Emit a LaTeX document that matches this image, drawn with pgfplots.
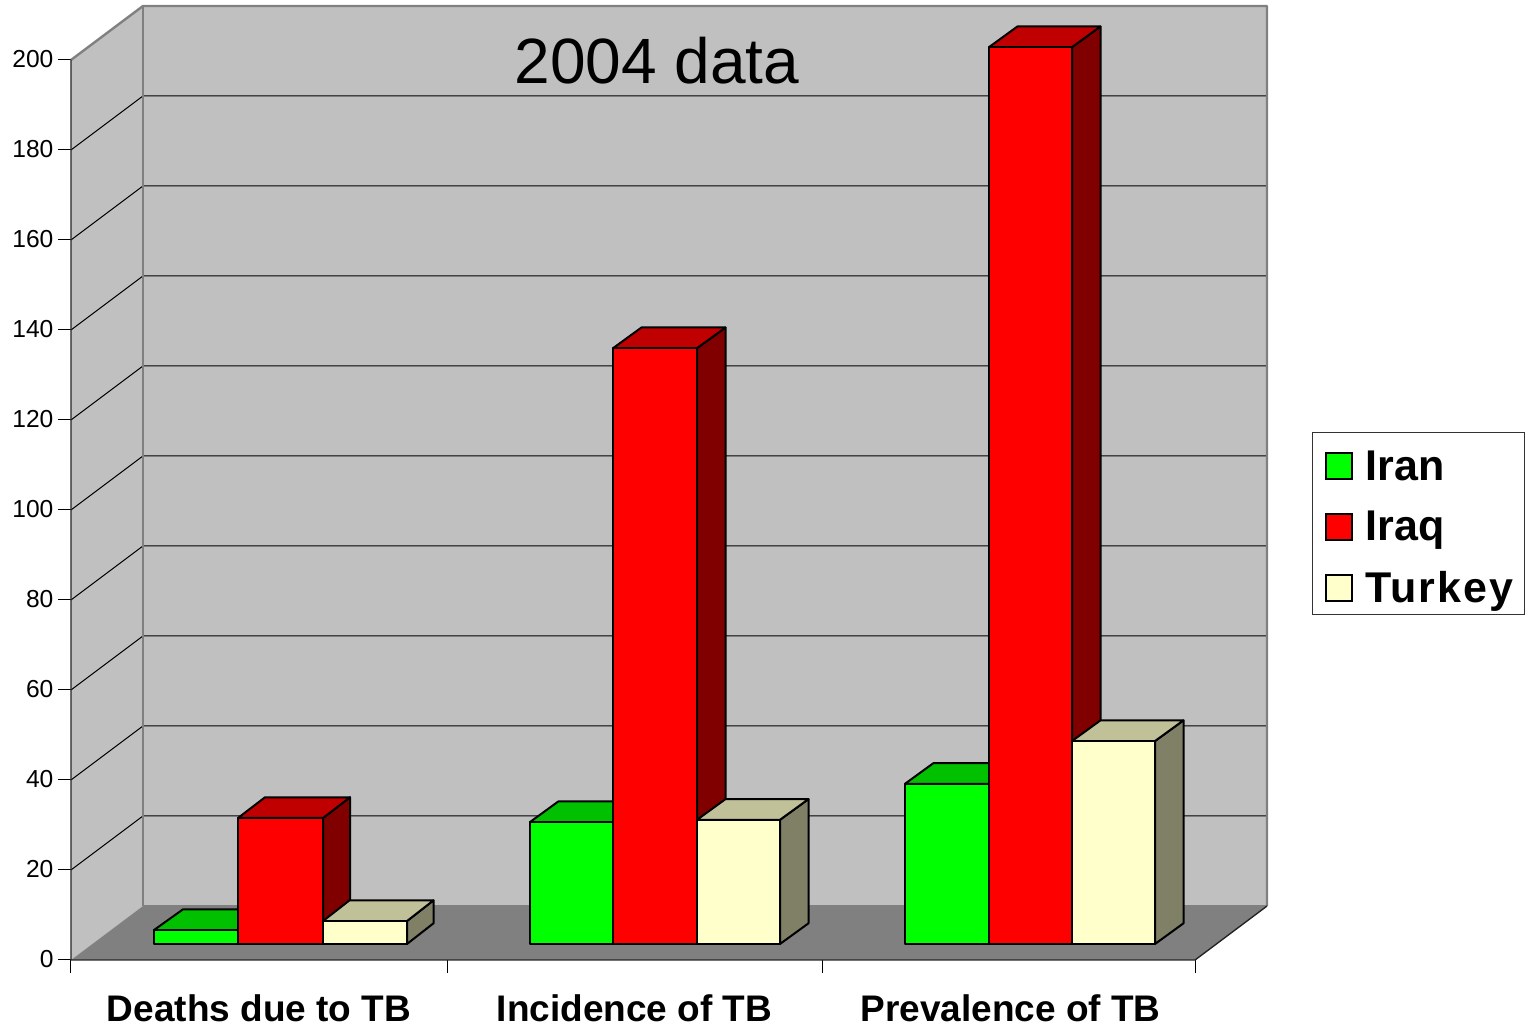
\documentclass[border=0pt]{standalone}
\usepackage{fontspec}
\setmainfont{Liberation Sans}
\usepackage{pgfplots}
\pgfplotsset{compat=1.18}
\definecolor{wall}{RGB}{192,192,192}
\definecolor{floorc}{RGB}{128,128,128}
\definecolor{gIran}{RGB}{0,255,0}
\definecolor{gIranT}{RGB}{0,192,0}
\definecolor{gIranS}{RGB}{0,128,0}
\definecolor{rIraq}{RGB}{255,0,0}
\definecolor{rIraqT}{RGB}{192,0,0}
\definecolor{rIraqS}{RGB}{128,0,0}
\definecolor{yTur}{RGB}{255,255,204}
\definecolor{yTurT}{RGB}{192,192,153}
\definecolor{yTurS}{RGB}{128,128,102}
% one 3-D bar: x0, x1 (horizontal position on the chart), value, colours, depth
\newcommand\TBbar[7]{%
  \pgfmathsetmacro\by{3.556}%
  \pgfmathsetmacro\ty{3.556+#3}%
  \pgfmathsetmacro\dty{\ty+4.6}%
  \pgfmathsetmacro\dby{\by+4.6}%
  \pgfmathsetmacro\xa{#2+#7}%
  \pgfmathsetmacro\xb{#1+#7}%
  \edef\temp{%
    \noexpand\addplot[forget plot,fill=#6,draw=black,line width=1pt,line join=round] coordinates {(#2,\by) (\xa,\dby) (\xa,\dty) (#2,\ty)} --cycle;
    \noexpand\addplot[forget plot,fill=#5,draw=black,line width=1pt,line join=round] coordinates {(#1,\ty) (#2,\ty) (\xa,\dty) (\xb,\dty)} --cycle;
    \noexpand\addplot[forget plot,fill=#4,draw=black,line width=1pt,line join=round] coordinates {(#1,\by) (#2,\by) (#2,\ty) (#1,\ty)} --cycle;
  }\temp}
\begin{document}
\begin{tikzpicture}
\useasboundingbox (-35.5pt,-33.5pt) rectangle (730pt,480pt);
\begin{axis}[
  scale only axis, width=598pt, height=477pt,
  xmin=71, xmax=1267, ymin=0, ymax=212,
  clip=false,
  axis x line=bottom, axis y line=left,
  axis line style={draw=none},
  ytick={0,20,...,200},
  xtick={71,447,822,1195}, xticklabels={},
  extra x ticks={259,634.5,1010.5},
  extra x tick labels={Deaths due to TB,Incidence of TB,Prevalence of TB},
  extra x tick style={major tick length=0pt,
    xticklabel style={font=\fontsize{18.5}{22}\selectfont\bfseries, text height=14pt, text depth=0pt, yshift=-13pt}},
  tick style={black,line width=0.5pt},
  major tick length=6.5pt,
  tick align=outside,
  yticklabel style={font=\fontsize{12.3}{14}\selectfont, xshift=1.25pt, yshift=0.7pt},
  /pgf/number format/assume math mode=true,
  legend cell align=left,
  legend image code/.code={\draw[#1,line width=1pt] (0pt,-6.5pt) rectangle (13pt,6.5pt);},
  legend style={at={(axis cs:1312,213.3-96)},anchor=north west,draw=black!80,line width=0.5pt,
    font=\fontsize{21.5}{25}\selectfont\bfseries,
    inner xsep=6pt, inner ysep=2.5pt, row sep=9.7pt,
    /tikz/every odd column/.style={column sep=4.5pt}},
]
% walls and floor
\addplot[forget plot,fill=wall,draw=none] coordinates {(71,0) (143,12) (143,212) (71,200)} --cycle;
\addplot[forget plot,fill=wall,draw=none] coordinates {(143,12) (1267,12) (1267,212) (143,212)} --cycle;
\addplot[forget plot,fill=floorc,draw=none] coordinates {(71,0) (143,12) (1267,12) (1195,0)} --cycle;
% grid lines
\addplot[forget plot,black,line width=0.5pt] coordinates {(71,20) (143,32) (1267,32)};
\addplot[forget plot,black,line width=0.5pt] coordinates {(71,40) (143,52) (1267,52)};
\addplot[forget plot,black,line width=0.5pt] coordinates {(71,60) (143,72) (1267,72)};
\addplot[forget plot,black,line width=0.5pt] coordinates {(71,80) (143,92) (1267,92)};
\addplot[forget plot,black,line width=0.5pt] coordinates {(71,100) (143,112) (1267,112)};
\addplot[forget plot,black,line width=0.5pt] coordinates {(71,120) (143,132) (1267,132)};
\addplot[forget plot,black,line width=0.5pt] coordinates {(71,140) (143,152) (1267,152)};
\addplot[forget plot,black,line width=0.5pt] coordinates {(71,160) (143,172) (1267,172)};
\addplot[forget plot,black,line width=0.5pt] coordinates {(71,180) (143,192) (1267,192)};
% wall borders
\addplot[forget plot,floorc,line width=1.2pt,line join=round] coordinates {(71,200) (143,212) (1267,212) (1267,12)};
\addplot[forget plot,floorc,line width=1.2pt] coordinates {(143,12) (143,212)};
\addplot[forget plot,floorc,line width=1.2pt] coordinates {(143,12) (1267,12)};
% axis lines
\addplot[forget plot,black!85,line width=0.7pt] coordinates {(71,200) (71,0) (1195,0) (1267,12)};
% bars
\TBbar{154}{238}{3.1}{gIran}{gIranT}{gIranS}{29}
\TBbar{238}{323}{28}{rIraq}{rIraqT}{rIraqS}{27}
\TBbar{323}{407}{5.1}{yTur}{yTurT}{yTurS}{26.5}
\TBbar{530}{613}{27.1}{gIran}{gIranT}{gIranS}{28.5}
\TBbar{613}{697}{132.4}{rIraq}{rIraqT}{rIraqS}{28.5}
\TBbar{697}{780}{27.6}{yTur}{yTurT}{yTurS}{28.5}
\TBbar{905}{989}{35.6}{gIran}{gIranT}{gIranS}{28.5}
\TBbar{989}{1072}{199.3}{rIraq}{rIraqT}{rIraqS}{28.5}
\TBbar{1072}{1155}{45.1}{yTur}{yTurT}{yTurS}{28.5}
\addlegendimage{fill=gIran,draw=black,yshift=-1.5pt}
\addlegendentry{\rule{0pt}{19.5pt}Iran}
\addlegendimage{fill=rIraq,draw=black}
\addlegendentry{Iraq}
\addlegendimage{fill=yTur,draw=black}
\addlegendentry{{\addfontfeature{LetterSpace=4.6}Turkey}\kern-2.5pt}
\node[font=\fontsize{32}{38}\selectfont] at (axis cs:657,199.8) {2004 data};
\end{axis}
\end{tikzpicture}
\end{document}
